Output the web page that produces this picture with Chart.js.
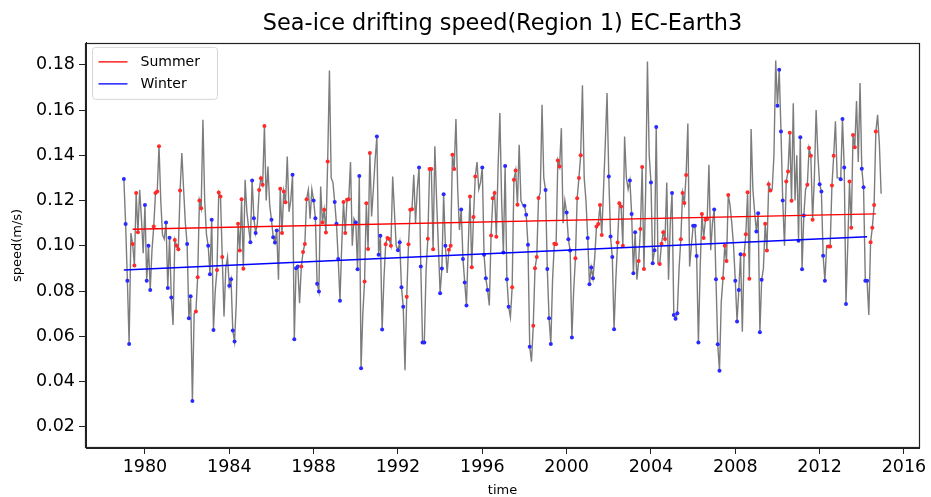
<!DOCTYPE html>
<html>
<head>
<meta charset="utf-8">
<script src="https://cdn.jsdelivr.net/npm/chart.js@4.4.0/dist/chart.umd.min.js"></script>
<style>
  html, body { margin: 0; padding: 0; background: #fff; }
  #wrap { width: 931px; height: 497px; }
</style>
</head>
<body>
<div id="wrap"><canvas id="c" width="931" height="497"></canvas></div>
<script>
// monthly mean speed, Jan 1979 .. Dec 2014 (one row per year)
const startYear = 1979;
const speed = [
  0.1295, 0.1096, 0.0845, 0.0566, 0.1056, 0.1008, 0.0913, 0.1233, 0.1060, 0.1247, 0.1120, 0.0967,
  0.1180, 0.0845, 0.1000, 0.0805, 0.0980, 0.1085, 0.1233, 0.1240, 0.1440, 0.1200, 0.1048, 0.1030,
  0.1103, 0.0813, 0.1036, 0.0771, 0.0650, 0.1026, 0.1000, 0.0985, 0.1244, 0.1410, 0.1250, 0.1100,
  0.1008, 0.0680, 0.0777, 0.0314, 0.0700, 0.0709, 0.0861, 0.1200, 0.1166, 0.1557, 0.1200, 0.1050,
  0.1000, 0.0874, 0.1115, 0.0628, 0.0800, 0.0893, 0.1236, 0.1218, 0.0950, 0.0687, 0.0900, 0.0950,
  0.0823, 0.0852, 0.0625, 0.0577, 0.0750, 0.1097, 0.0979, 0.1206, 0.0899, 0.1292, 0.1150, 0.1080,
  0.1016, 0.1289, 0.1122, 0.1056, 0.1100, 0.1247, 0.1299, 0.1270, 0.1530, 0.1200, 0.1350, 0.1180,
  0.1115, 0.1038, 0.1014, 0.1067, 0.0850, 0.1252, 0.1056, 0.1240, 0.1192, 0.1395, 0.1150, 0.1200,
  0.1314, 0.0587, 0.0901, 0.0908, 0.0746, 0.0908, 0.0973, 0.1008, 0.1206, 0.1247, 0.1120, 0.1250,
  0.1200, 0.1122, 0.0832, 0.0798, 0.1262, 0.1103, 0.1159, 0.1059, 0.1373, 0.1775, 0.1300, 0.1280,
  0.1193, 0.1097, 0.0942, 0.0757, 0.1000, 0.1193, 0.1056, 0.1203, 0.1206, 0.1370, 0.1000, 0.1120,
  0.1103, 0.0896, 0.1309, 0.0459, 0.0700, 0.0842, 0.1188, 0.0986, 0.1410, 0.1130, 0.1250, 0.1380,
  0.1483, 0.0960, 0.1044, 0.0630, 0.0850, 0.1007, 0.1034, 0.1030, 0.1000, 0.1306, 0.1150, 0.1000,
  0.0980, 0.1016, 0.0817, 0.0731, 0.0450, 0.0775, 0.1007, 0.1159, 0.1162, 0.1314, 0.1100, 0.1250,
  0.1346, 0.0908, 0.0572, 0.0572, 0.0890, 0.1031, 0.1339, 0.1339, 0.0985, 0.1440, 0.1200, 0.1000,
  0.0790, 0.0900, 0.1228, 0.1000, 0.0880, 0.0982, 0.1000, 0.1402, 0.1339, 0.1560, 0.1250, 0.1070,
  0.1160, 0.0942, 0.0838, 0.0736, 0.1000, 0.1218, 0.0905, 0.1127, 0.1306, 0.1370, 0.1250, 0.1280,
  0.1346, 0.0960, 0.0857, 0.0805, 0.0736, 0.1045, 0.1210, 0.1233, 0.1040, 0.1350, 0.1587, 0.1200,
  0.0970, 0.1353, 0.0852, 0.0731, 0.0684, 0.0817, 0.1292, 0.1333, 0.1181, 0.1446, 0.1200, 0.1180,
  0.1177, 0.1137, 0.1004, 0.0554, 0.0488, 0.0646, 0.0901, 0.0950, 0.1211, 0.1236, 0.1623, 0.1300,
  0.1247, 0.0897, 0.0680, 0.0566, 0.0850, 0.1009, 0.1007, 0.1377, 0.1350, 0.1520, 0.1100, 0.1200,
  0.1147, 0.1029, 0.0979, 0.0594, 0.0800, 0.0945, 0.1210, 0.1300, 0.1400, 0.1710, 0.1300, 0.1200,
  0.1034, 0.0830, 0.0904, 0.0857, 0.0950, 0.1085, 0.1096, 0.1180, 0.1048, 0.1250, 0.1450, 0.1675,
  0.1306, 0.1041, 0.0950, 0.0631, 0.0850, 0.1015, 0.1188, 0.1174, 0.1000, 0.1483, 0.1300, 0.1250,
  0.1289, 0.1141, 0.0879, 0.1060, 0.0850, 0.0933, 0.1074, 0.1348, 0.0897, 0.1250, 0.1815, 0.1400,
  0.1280, 0.0923, 0.0980, 0.1525, 0.0920, 0.0920, 0.1009, 0.1060, 0.1030, 0.1280, 0.0850, 0.1100,
  0.1233, 0.0694, 0.0677, 0.0702, 0.0900, 0.1029, 0.1233, 0.1189, 0.1313, 0.1540, 0.0908, 0.1000,
  0.1088, 0.1088, 0.0955, 0.0572, 0.0900, 0.1141, 0.1034, 0.1115, 0.1118, 0.1358, 0.0980, 0.1100,
  0.1160, 0.0852, 0.0565, 0.0447, 0.0750, 0.0857, 0.1000, 0.0933, 0.1225, 0.1180, 0.1100, 0.1000,
  0.0845, 0.0665, 0.0805, 0.0963, 0.0620, 0.0960, 0.1051, 0.1237, 0.0854, 0.1516, 0.1250, 0.1150,
  0.1063, 0.1144, 0.0618, 0.0850, 0.0900, 0.1097, 0.0979, 0.1272, 0.1244, 0.1250, 0.1400, 0.1819,
  0.1619, 0.1778, 0.1505, 0.1200, 0.1000, 0.1284, 0.1328, 0.1500, 0.1199, 0.1630, 0.1200, 0.1400,
  0.1022, 0.1480, 0.0896, 0.1134, 0.1250, 0.1270, 0.1432, 0.1398, 0.1115, 0.1300, 0.1600, 0.1400,
  0.1272, 0.1240, 0.0956, 0.0845, 0.1000, 0.0997, 0.0997, 0.1266, 0.1398, 0.1550, 0.1300, 0.1300,
  0.1294, 0.1560, 0.1346, 0.0743, 0.1000, 0.1284, 0.1080, 0.1490, 0.1436, 0.1640, 0.1370, 0.1720,
  0.1340, 0.1259, 0.0845, 0.0845, 0.0694, 0.1016, 0.1080, 0.1180, 0.1505, 0.1579, 0.1450, 0.1230
];

// month numbers (0 = Jan) marked as summer / winter
const summerMonths = [5, 6, 7, 8];
const winterMonths = [0, 1, 2, 3];

// linear trend lines (start, end)
const summerTrendX = [1979 + 5 / 12, 2014 + 8 / 12];
const summerTrendY = [0.1073, 0.1141];
const winterTrendX = [1979, 2014 + 3 / 12];
const winterTrendY = [0.0893, 0.1040];

const xTicks = [1980, 1984, 1988, 1992, 1996, 2000, 2004, 2008, 2012, 2016];
const yTicks = [0.02, 0.04, 0.06, 0.08, 0.10, 0.12, 0.14, 0.16, 0.18];

const pts = speed.map((v, i) => ({ x: startYear + i / 12, y: v }));
const summerPts = pts.filter((p, i) => summerMonths.includes(i % 12));
const winterPts = pts.filter((p, i) => winterMonths.includes(i % 12));
const toLine = (xs, ys) => xs.map((x, i) => ({ x: x, y: ys[i] }));

const FONT = 'DejaVu Sans';

// box round the plot + legend in upper left, matplotlib style
const framePlugin = {
  id: 'frame',
  afterDraw(chart) {
    const { ctx, chartArea: a } = chart;
    ctx.save();
    ctx.strokeStyle = '#222';
    ctx.lineWidth = 1.2;
    ctx.strokeRect(Math.round(a.left) - 0.5, Math.round(a.top) + 0.5,
                   Math.round(a.right - a.left) + 1, Math.round(a.bottom - a.top) - 1);

    // legend
    const items = chart.data.datasets.filter(d => d.inLegend);
    const bx = a.left + 6.5, by = a.top + 4.5, bw = 125, bh = 52;
    ctx.beginPath();
    ctx.roundRect(bx, by, bw, bh, 3);
    ctx.fillStyle = 'rgba(255,255,255,0.8)';
    ctx.fill();
    ctx.strokeStyle = '#d6d6d6';
    ctx.lineWidth = 1;
    ctx.stroke();
    ctx.font = '14px "' + FONT + '"';
    ctx.textBaseline = 'middle';
    items.forEach((d, k) => {
      const y = by + 14.5 + k * 22;
      ctx.beginPath();
      ctx.moveTo(bx + 6, y);
      ctx.lineTo(bx + 35, y);
      ctx.strokeStyle = d.borderColor;
      ctx.lineWidth = 1.3;
      ctx.stroke();
      ctx.fillStyle = '#000';
      ctx.fillText(d.label, bx + 48, y);
    });
    ctx.restore();
  }
};

new Chart(document.getElementById('c'), {
  type: 'line',
  data: {
    datasets: [
      { label: 'Summer', inLegend: true, data: toLine(summerTrendX, summerTrendY),
        borderColor: '#ff0000', borderWidth: 1.4, pointRadius: 0, order: 1 },
      { label: 'Winter', inLegend: true, data: toLine(winterTrendX, winterTrendY),
        borderColor: '#0000ff', borderWidth: 1.4, pointRadius: 0, order: 1 },
      { label: 'summer months', data: summerPts, showLine: false,
        pointRadius: 2, pointBorderWidth: 0, pointBackgroundColor: '#ff2a2a', order: 2 },
      { label: 'winter months', data: winterPts, showLine: false,
        pointRadius: 2, pointBorderWidth: 0, pointBackgroundColor: '#2a2aff', order: 2 },
      { label: 'speed', data: pts, borderColor: '#7c7c7c', borderWidth: 1.4,
        pointRadius: 0, tension: 0, order: 3 }
    ]
  },
  options: {
    responsive: false,
    animation: false,
    devicePixelRatio: 1,
    layout: { padding: { left: 0, right: 12, top: 0, bottom: 0 } },
    plugins: {
      legend: { display: false },
      tooltip: { enabled: false },
      title: {
        display: true,
        fullSize: false,
        text: 'Sea-ice drifting speed(Region 1) EC-Earth3',
        color: '#000',
        font: { family: FONT, size: 22.4, weight: 'normal', lineHeight: 1.2 },
        padding: { top: 11, bottom: 5 }
      }
    },
    scales: {
      x: {
        type: 'linear',
        min: 1977.204, max: 2016.713,
        afterBuildTicks: s => { s.ticks = xTicks.map(v => ({ value: v })); },
        afterFit: s => { s.height = 49; },
        ticks: { color: '#000', font: { family: FONT, size: 17.5 }, padding: 3,
                 maxRotation: 0, autoSkip: false, callback: v => String(v) },
        grid: { display: true, drawOnChartArea: false, drawTicks: true, tickLength: 6, color: '#222' },
        border: { display: true, color: '#222' },
        title: { display: true, text: 'time', color: '#000',
                 font: { family: FONT, size: 13, lineHeight: 1 }, padding: { top: 0, bottom: 0 } }
      },
      y: {
        min: 0.0106, max: 0.1897,
        afterBuildTicks: s => { s.ticks = yTicks.map(v => ({ value: v })); },
        afterFit: s => { s.width = 86; },
        ticks: { color: '#000', font: { family: FONT, size: 17.5 }, padding: 4,
                 autoSkip: false, callback: v => v.toFixed(2) },
        grid: { display: true, drawOnChartArea: false, drawTicks: true, tickLength: 7, color: '#222' },
        border: { display: true, color: '#222' },
        title: { display: true, text: 'speed(m/s)', color: '#000',
                 font: { family: FONT, size: 13, lineHeight: 1.2 }, padding: { top: 10, bottom: 0 } }
      }
    }
  },
  plugins: [framePlugin]
});
</script>
</body>
</html>
